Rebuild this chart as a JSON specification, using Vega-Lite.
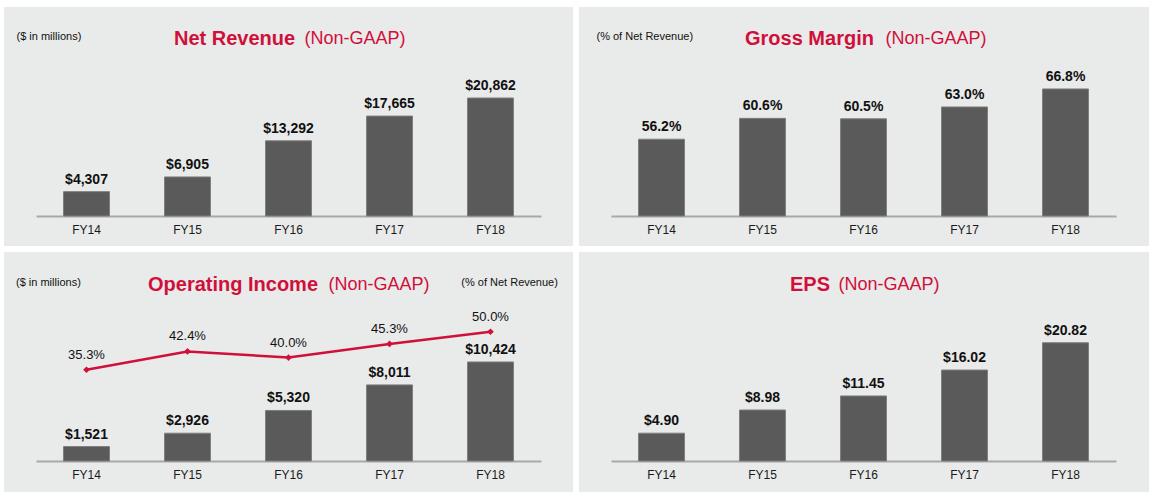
{
  "$schema": "https://vega.github.io/schema/vega-lite/v6.json",
  "background": "white",
  "padding": {"left": 4, "top": 7, "right": 2, "bottom": 6},
  "data": {"values": [
    {"fy": "FY14", "revenue": 4307, "gross_margin": 0.562, "op_income": 1521, "op_margin": 0.353, "eps": 4.90},
    {"fy": "FY15", "revenue": 6905, "gross_margin": 0.606, "op_income": 2926, "op_margin": 0.424, "eps": 8.98},
    {"fy": "FY16", "revenue": 13292, "gross_margin": 0.605, "op_income": 5320, "op_margin": 0.400, "eps": 11.45},
    {"fy": "FY17", "revenue": 17665, "gross_margin": 0.630, "op_income": 8011, "op_margin": 0.453, "eps": 16.02},
    {"fy": "FY18", "revenue": 20862, "gross_margin": 0.668, "op_income": 10424, "op_margin": 0.500, "eps": 20.82}
  ]},
  "config": {
    "font": "Liberation Sans",
    "view": {"fill": "#e9eaea", "stroke": null},
    "axis": {"grid": false},
    "bar": {"color": "#5a5a5a", "stroke": "#7e7e7e", "strokeWidth": 1},
    "title": {"anchor": "start", "frame": "group", "baseline": "alphabetic", "fontSize": 20, "fontWeight": "bold", "color": "#d0103a", "font": "Liberation Sans"}
  },
  "columns": 2,
  "spacing": 6,
  "bounds": "flush",
  "concat": [
    {
      "width": 569,
      "height": 239,
      "title": {"text": "Net Revenue", "dx": 170, "offset": -42},
      "encoding": {
        "x": {"field": "fy", "type": "nominal", "sort": null,
          "scale": {"range": [32, 537], "paddingInner": 0.545, "paddingOuter": 0.2725},
          "axis": {"orient": "bottom", "offset": -30, "labelAngle": 0, "ticks": false, "domainColor": "#a8a8a8", "domainWidth": 2, "labelFontSize": 12, "labelColor": "#1a1a1a", "labelPadding": 8,
            "title": "(Non-GAAP)", "titleX": 300, "titleY": -173, "titleAlign": "left", "titleAnchor": "start", "titleBaseline": "alphabetic", "titleFontSize": 18, "titleFontWeight": "normal", "titleColor": "#d0103a"}},
        "y": {"field": "revenue", "type": "quantitative",
          "scale": {"domain": [-5304, 36952], "nice": false, "zero": false},
          "axis": {"domain": false, "ticks": false, "labels": false, "title": "($ in millions)", "titleAngle": 0, "titleX": 12, "titleY": 32.5, "titleAlign": "left", "titleAnchor": "start", "titleBaseline": "alphabetic", "titleFontSize": 11, "titleFontWeight": "normal", "titleColor": "#111111"}}
      },
      "layer": [
        {"mark": {"type": "bar"}, "encoding": {"y2": {"datum": 0}}},
        {"mark": {"type": "text", "baseline": "alphabetic", "dy": -8, "fontSize": 14, "fontWeight": "bold", "color": "#111111"},
          "encoding": {"text": {"field": "revenue", "type": "quantitative", "format": "$,.0f"}}}
      ]
    },
    {
      "width": 570,
      "height": 239,
      "title": {"text": "Gross Margin", "dx": 166, "offset": -42},
      "encoding": {
        "x": {"field": "fy", "type": "nominal", "sort": null,
          "scale": {"range": [32, 537], "paddingInner": 0.545, "paddingOuter": 0.2725},
          "axis": {"orient": "bottom", "offset": -30, "labelAngle": 0, "ticks": false, "domainColor": "#a8a8a8", "domainWidth": 2, "labelFontSize": 12, "labelColor": "#1a1a1a", "labelPadding": 8,
            "title": "(Non-GAAP)", "titleX": 306, "titleY": -173, "titleAlign": "left", "titleAnchor": "start", "titleBaseline": "alphabetic", "titleFontSize": 18, "titleFontWeight": "normal", "titleColor": "#d0103a"}},
        "y": {"field": "gross_margin", "type": "quantitative",
          "scale": {"domain": [0.3367, 0.8409], "nice": false, "zero": false},
          "axis": {"domain": false, "ticks": false, "labels": false, "title": "(% of Net Revenue)", "titleAngle": 0, "titleX": 17, "titleY": 32.5, "titleAlign": "left", "titleAnchor": "start", "titleBaseline": "alphabetic", "titleFontSize": 11, "titleFontWeight": "normal", "titleColor": "#111111"}}
      },
      "layer": [
        {"mark": {"type": "bar"}, "encoding": {"y2": {"datum": 0.4}}},
        {"mark": {"type": "text", "baseline": "alphabetic", "dy": -8, "fontSize": 14, "fontWeight": "bold", "color": "#111111"},
          "encoding": {"text": {"field": "gross_margin", "type": "quantitative", "format": ".1%"}}}
      ]
    },
    {
      "width": 569,
      "height": 240,
      "title": {"text": "Operating Income", "dx": 144, "offset": -43},
      "encoding": {
        "x": {"field": "fy", "type": "nominal", "sort": null,
          "scale": {"range": [32, 537], "paddingInner": 0.545, "paddingOuter": 0.2725},
          "axis": {"orient": "bottom", "offset": -31, "labelAngle": 0, "ticks": false, "domainColor": "#a8a8a8", "domainWidth": 2, "labelFontSize": 12, "labelColor": "#1a1a1a", "labelPadding": 8,
            "title": "(Non-GAAP)", "titleX": 324, "titleY": -172, "titleAlign": "left", "titleAnchor": "start", "titleBaseline": "alphabetic", "titleFontSize": 18, "titleFontWeight": "normal", "titleColor": "#d0103a"}}
      },
      "layer": [
        {
          "encoding": {
            "y": {"field": "op_income", "type": "quantitative",
              "scale": {"domain": [-3263, 22000], "nice": false, "zero": false},
              "axis": {"orient": "left", "domain": false, "ticks": false, "labels": false, "title": "($ in millions)", "titleAngle": 0, "titleX": 11.5, "titleY": 33, "titleAlign": "left", "titleAnchor": "start", "titleBaseline": "alphabetic", "titleFontSize": 11, "titleFontWeight": "normal", "titleColor": "#111111"}}
          },
          "layer": [
            {"mark": {"type": "bar"}, "encoding": {"y2": {"datum": 0}}},
            {"mark": {"type": "text", "baseline": "alphabetic", "dy": -8, "fontSize": 14, "fontWeight": "bold", "color": "#111111"},
              "encoding": {"text": {"field": "op_income", "type": "quantitative", "format": "$,.0f"}}}
          ]
        },
        {
          "encoding": {
            "y": {"field": "op_margin", "type": "quantitative",
              "scale": {"domain": [-0.1199, 0.8085], "nice": false, "zero": false},
              "axis": {"orient": "right", "domain": false, "ticks": false, "labels": false, "title": "(% of Net Revenue)", "titleAngle": 0, "titleX": -15.6, "titleY": 33, "titleAlign": "right", "titleAnchor": "end", "titleBaseline": "alphabetic", "titleFontSize": 11, "titleFontWeight": "normal", "titleColor": "#111111"}}
          },
          "layer": [
            {"mark": {"type": "line", "color": "#d0103a", "strokeWidth": 2.5,
              "point": {"shape": "diamond", "size": 45, "filled": true, "color": "#d0103a"}}},
            {"mark": {"type": "text", "baseline": "alphabetic", "dy": -11, "fontSize": 13, "fontWeight": "normal", "color": "#111111"},
              "encoding": {"text": {"field": "op_margin", "type": "quantitative", "format": ".1%"}}}
          ]
        }
      ],
      "resolve": {"scale": {"y": "independent"}, "axis": {"y": "independent"}}
    },
    {
      "width": 570,
      "height": 240,
      "title": {"text": "EPS", "dx": 211, "offset": -43},
      "encoding": {
        "x": {"field": "fy", "type": "nominal", "sort": null,
          "scale": {"range": [32, 537], "paddingInner": 0.545, "paddingOuter": 0.2725},
          "axis": {"orient": "bottom", "offset": -31, "labelAngle": 0, "ticks": false, "domainColor": "#a8a8a8", "domainWidth": 2, "labelFontSize": 12, "labelColor": "#1a1a1a", "labelPadding": 8,
            "title": "(Non-GAAP)", "titleX": 259, "titleY": -172, "titleAlign": "left", "titleAnchor": "start", "titleBaseline": "alphabetic", "titleFontSize": 18, "titleFontWeight": "normal", "titleColor": "#d0103a"}},
        "y": {"field": "eps", "type": "quantitative",
          "scale": {"domain": [-5.458, 36.8], "nice": false, "zero": false},
          "axis": {"domain": false, "ticks": false, "labels": false, "title": null}}
      },
      "layer": [
        {"mark": {"type": "bar"}, "encoding": {"y2": {"datum": 0}}},
        {"mark": {"type": "text", "baseline": "alphabetic", "dy": -8, "fontSize": 14, "fontWeight": "bold", "color": "#111111"},
          "encoding": {"text": {"field": "eps", "type": "quantitative", "format": "$.2f"}}}
      ]
    }
  ]
}
